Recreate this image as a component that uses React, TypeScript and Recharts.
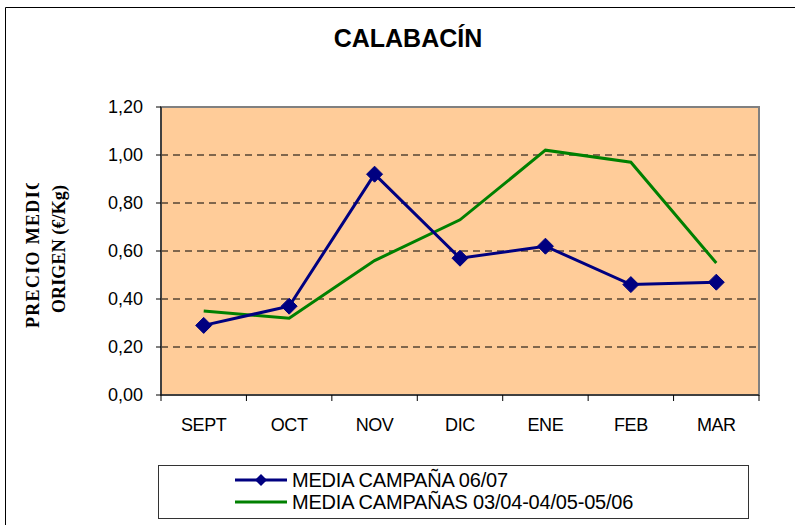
import { ComposedChart, Line, XAxis, YAxis, CartesianGrid, ReferenceArea } from "recharts";

const months = ["SEPT", "OCT", "NOV", "DIC", "ENE", "FEB", "MAR"];
const campana0607 = [0.29, 0.37, 0.92, 0.57, 0.62, 0.46, 0.47];
const campanasPrev = [0.35, 0.32, 0.56, 0.73, 1.02, 0.97, 0.55];
const yTicks = [0, 0.2, 0.4, 0.6, 0.8, 1.0, 1.2];

const NAVY = "#000080";
const GREEN = "#008000";
const PLOT_BG = "#FFCC99";
const FONT = "'Liberation Sans', Arial, sans-serif";
const SERIF = "'Liberation Serif', 'Times New Roman', serif";

// each month sits in the middle of its band; band edges get the tick marks
const data = months.map((m, i) => ({
  month: m,
  pos: i + 0.5,
  actual: campana0607[i],
  media: campanasPrev[i],
}));
const xTicks = [0, ...months.flatMap((_, i) => [i + 0.5, i + 1])];

function Diamond(props: { cx?: number; cy?: number }) {
  const { cx, cy } = props;
  if (cx == null || cy == null) return null;
  const r = 8;
  return (
    <polygon
      points={`${cx},${cy - r} ${cx + r},${cy} ${cx},${cy + r} ${cx - r},${cy}`}
      fill={NAVY}
      stroke={NAVY}
    />
  );
}

function MonthTick(props: { x?: number; y?: number; payload?: { value: number } }) {
  const { x = 0, y = 0, payload } = props;
  const v = payload?.value ?? 0;
  if (Number.isInteger(v)) {
    return <line x1={x} y1={y} x2={x} y2={y + 6} stroke="#000" />;
  }
  return (
    <text
      x={x}
      y={y + 36}
      textAnchor="middle"
      fontFamily={FONT}
      fontSize={18}
      letterSpacing={-0.4}
      fill="#000"
    >
      {months[Math.floor(v)]}
    </text>
  );
}

function PriceTick(props: { x?: number; y?: number; payload?: { value: number } }) {
  const { x = 0, y = 0, payload } = props;
  return (
    <text x={x} y={y + 6} textAnchor="end" fontFamily={FONT} fontSize={18} fill="#000">
      {(payload?.value ?? 0).toFixed(2).replace(".", ",")}
    </text>
  );
}

export default function App() {
  return (
    <div
      style={{
        position: "fixed",
        left: 0,
        top: 0,
        width: 795,
        height: 525,
        overflow: "hidden",
        background: "#fff",
      }}
    >
      <ComposedChart
        width={795}
        height={525}
        data={data}
        margin={{ top: 107, right: 36, left: 0, bottom: 0 }}
      >
        <CartesianGrid
          vertical={false}
          fill={PLOT_BG}
          fillOpacity={1}
          stroke="#000"
          strokeDasharray="7 5"
        />
        <ReferenceArea
          x1={0}
          x2={7}
          y1={0}
          y2={1.2}
          fill="none"
          stroke="#808080"
          strokeWidth={2}
          ifOverflow="visible"
        />
        <XAxis
          dataKey="pos"
          type="number"
          domain={[0, 7]}
          ticks={xTicks}
          interval={0}
          height={130}
          axisLine={{ stroke: "#000" }}
          tickLine={false}
          tickSize={0}
          tickMargin={0}
          tick={<MonthTick />}
        />
        <YAxis
          width={161}
          domain={[0, 1.2]}
          ticks={yTicks}
          interval={0}
          axisLine={{ stroke: "#000" }}
          tickLine={{ stroke: "#000" }}
          tickSize={5}
          tickMargin={13}
          tick={<PriceTick />}
        />
        <Line
          type="linear"
          dataKey="media"
          stroke={GREEN}
          strokeWidth={3}
          dot={false}
          activeDot={false}
          isAnimationActive={false}
        />
        <Line
          type="linear"
          dataKey="actual"
          stroke={NAVY}
          strokeWidth={3}
          dot={<Diamond />}
          activeDot={false}
          isAnimationActive={false}
        />
      </ComposedChart>

      <svg
        width={795}
        height={525}
        style={{ position: "absolute", left: 0, top: 0, pointerEvents: "none" }}
      >
        <line x1={5.5} y1={7.5} x2={795} y2={7.5} stroke="#000" />
        <line x1={5.5} y1={7.5} x2={5.5} y2={525} stroke="#000" />
        <text
          x={408}
          y={47}
          textAnchor="middle"
          fontFamily={FONT}
          fontWeight="bold"
          fontSize={25}
          fill="#000"
        >
          CALABACÍN
        </text>
        <svg x={0} y={183} width={100} height={160} overflow="hidden">
          <g fontFamily={SERIF} fontWeight="bold" fontSize={18} fill="#000">
            <text
              transform="translate(39,145) rotate(-90)"
              textLength={152}
              lengthAdjust="spacing"
            >
              PRECIO MEDIO
            </text>
            <text
              transform="translate(65,130) rotate(-90)"
              textLength={128}
              lengthAdjust="spacing"
            >
              ORIGEN (€/Kg)
            </text>
          </g>
        </svg>
        <rect x={158.5} y={465.5} width={590} height={53} fill="#fff" stroke="#333" />
        <line x1={235} y1={480} x2={287} y2={480} stroke={NAVY} strokeWidth={3} />
        <polygon points="261,474 267,480 261,486 255,480" fill={NAVY} />
        <line x1={235} y1={502} x2={287} y2={502} stroke={GREEN} strokeWidth={3} />
        <g fontFamily={FONT} fontSize={20} fill="#000" letterSpacing={-0.2}>
          <text x={292} y={487}>MEDIA CAMPAÑA 06/07</text>
          <text x={292} y={509}>MEDIA CAMPAÑAS 03/04-04/05-05/06</text>
        </g>
      </svg>
    </div>
  );
}
